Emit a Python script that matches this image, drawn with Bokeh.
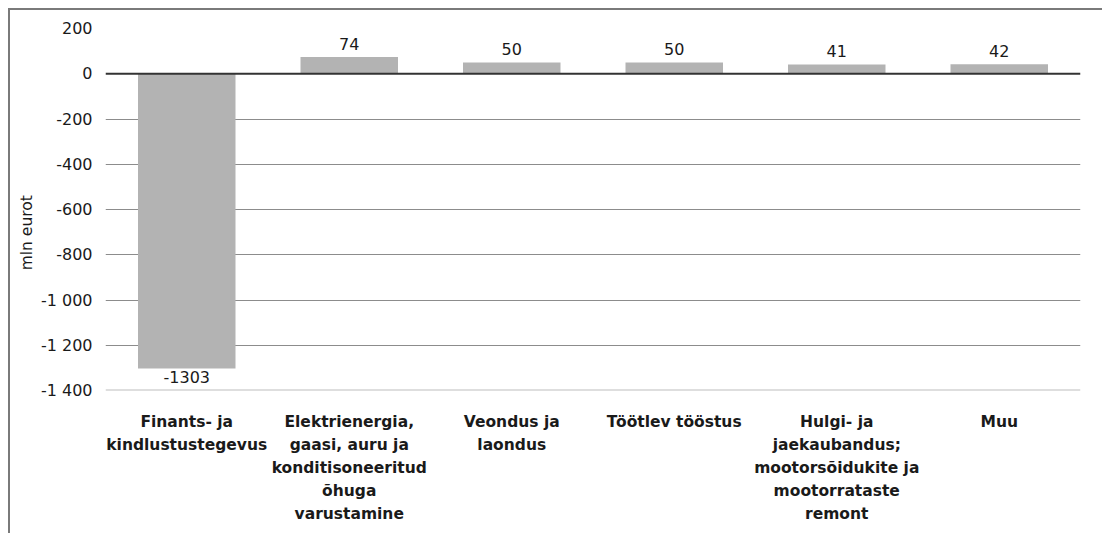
from bokeh.plotting import figure
from bokeh.models import ColumnDataSource, LabelSet, Span, FixedTicker
from bokeh.core.properties import value
from bokeh.embed import file_html
from bokeh.resources import INLINE

categories = [
    "Finants- ja\nkindlustustegevus",
    "Elektrienergia,\ngaasi, auru ja\nkonditisoneeritud\nõhuga\nvarustamine",
    "Veondus ja\nlaondus",
    "Töötlev tööstus",
    "Hulgi- ja\njaekaubandus;\nmootorsõidukite ja\nmootorrataste\nremont",
    "Muu",
]
values = [-1303, 74, 50, 50, 41, 42]
y_ticks = [200, 0, -200, -400, -600, -800, -1000, -1200, -1400]
y_tick_labels = ["200", "0", "-200", "-400", "-600", "-800", "-1 000", "-1 200", "-1 400"]
y_title = "mln eurot"

FONT = "DejaVu Sans"

pos_idx = [i for i, v in enumerate(values) if v >= 0]
neg_idx = [i for i, v in enumerate(values) if v < 0]
src = ColumnDataSource(dict(x=categories, top=values))
src_pos = ColumnDataSource(dict(x=[categories[i] for i in pos_idx], y=[values[i] for i in pos_idx],
                                lbl=[str(values[i]) for i in pos_idx]))
src_neg = ColumnDataSource(dict(x=[categories[i] for i in neg_idx], y=[values[i] for i in neg_idx],
                                lbl=[str(values[i]) for i in neg_idx]))

p = figure(x_range=categories, y_range=(-1400, 200), frame_width=975, frame_height=362,
           min_border_left=95, min_border_top=18, min_border_right=22, min_border_bottom=143,
           output_backend="svg", toolbar_location=None, tools="")
p.outline_line_color = None
p.background_fill_color = "white"
p.border_fill_color = "white"
p.styles = {"margin-left": "8px", "margin-top": "8px",
            "border-top": "2px solid #7a7a7a", "border-left": "2px solid #7a7a7a"}

p.vbar(x="x", top="top", bottom=0, width=0.6, source=src, color="#b3b3b3", line_color=None)

p.yaxis.ticker = FixedTicker(ticks=y_ticks)
p.yaxis.major_label_overrides = {t: l for t, l in zip(y_ticks, y_tick_labels)}
p.ygrid.ticker = FixedTicker(ticks=[t for t in y_ticks if t not in (0, -1400)])
p.ygrid.grid_line_color = "#8c8c8c"
p.ygrid.grid_line_width = 1
p.xgrid.grid_line_color = None

for ax in (p.xaxis, p.yaxis):
    ax.axis_line_color = None
    ax.major_tick_line_color = None
    ax.minor_tick_line_color = None
    ax.major_tick_out = 0
    ax.major_tick_in = 0

p.yaxis.major_label_text_font = FONT
p.yaxis.major_label_text_font_size = "16px"
p.yaxis.major_label_text_color = "#1a1a1a"
p.yaxis.major_label_standoff = 13

# em spaces after the title push the visible text downward, as in the reference
p.yaxis.axis_label = y_title + "\u2003\u2003\u2003"
p.yaxis.axis_label_text_font = FONT
p.yaxis.axis_label_text_font_size = "15.5px"
p.yaxis.axis_label_text_font_style = "normal"
p.yaxis.axis_label_text_color = "#1a1a1a"
p.yaxis.axis_label_standoff = 2

p.xaxis.major_label_text_font = FONT
p.xaxis.major_label_text_font_size = "15.5px"
p.xaxis.major_label_text_font_style = "bold"
p.xaxis.major_label_text_color = "#1a1a1a"
p.xaxis.major_label_standoff = 22
p.xaxis.major_label_text_line_height = 1.28

p.add_layout(Span(location=-1400, dimension="width", line_color="#bdbdbd", line_width=2))
p.add_layout(Span(location=0, dimension="width", line_color="#333333", line_width=2))

p.add_layout(LabelSet(x="x", y="y", text="lbl", source=src_pos, text_align="center",
                      text_baseline="bottom", y_offset=7, text_font=value(FONT),
                      text_font_size="16px", text_color="#1a1a1a"))
p.add_layout(LabelSet(x="x", y="y", text="lbl", source=src_neg, text_align="center",
                      text_baseline="top", y_offset=-2, text_font=value(FONT),
                      text_font_size="16px", text_color="#1a1a1a"))

open("out.html", "w").write(file_html(p, INLINE))
